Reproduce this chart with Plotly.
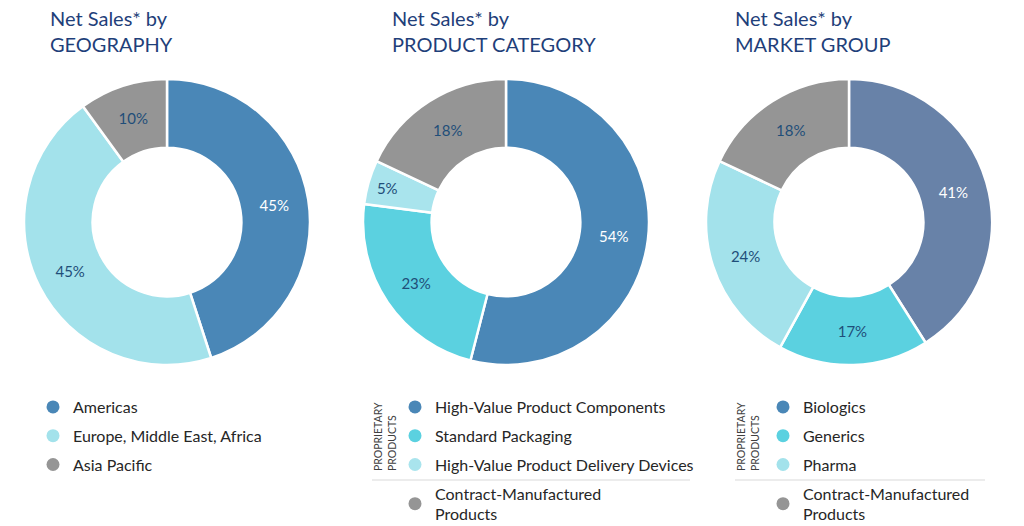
import plotly.graph_objects as go

W, H = 1024, 526

geo_labels = ["Americas", "Europe, Middle East, Africa", "Asia Pacific"]
geo_values = [45, 45, 10]
geo_colors = ["#4a87b7", "#a3e2eb", "#959595"]
geo_text_colors = ["#ffffff", "#1f4e79", "#1f4e79"]

prod_labels = ["High-Value Product Components", "Standard Packaging",
               "High-Value Product Delivery Devices", "Contract-Manufactured<br>Products"]
prod_values = [54, 23, 5, 18]
prod_colors = ["#4a87b7", "#5bd1e0", "#a9e4ed", "#959595"]
prod_text_colors = ["#ffffff", "#1f4e79", "#1f4e79", "#1f4e79"]

mkt_labels = ["Biologics", "Generics", "Pharma", "Contract-Manufactured<br>Products"]
mkt_values = [41, 17, 24, 18]
mkt_colors = ["#6882a8", "#5bd1e0", "#a3e2eb", "#959595"]
mkt_legend_colors = ["#4a87b7", "#5bd1e0", "#a3e2eb", "#959595"]
mkt_text_colors = ["#ffffff", "#1f4e79", "#1f4e79", "#1f4e79"]

titles = ["Net Sales* by<br>GEOGRAPHY", "Net Sales* by<br>PRODUCT CATEGORY", "Net Sales* by<br>MARKET GROUP"]

FONT = "Lato"
TITLE_COLOR = "#1f3f7a"

centers_x = [167, 506, 849]
cy = 222
R = 143

def dom(cx):
    return dict(x=[(cx - R) / W, (cx + R) / W],
                y=[(H - cy - R) / H, (H - cy + R) / H])

fig = go.Figure()
pies = [(geo_labels, geo_values, geo_colors, geo_text_colors),
        (prod_labels, prod_values, prod_colors, prod_text_colors),
        (mkt_labels, mkt_values, mkt_colors, mkt_text_colors)]
for i, (lab, val, col, tcol) in enumerate(pies):
    fig.add_trace(go.Pie(
        labels=lab, values=val, hole=0.52, sort=False, direction="clockwise",
        rotation=0, marker=dict(colors=col, line=dict(color="white", width=2.5)),
        texttemplate="%{value}%", textposition="inside",
        insidetextorientation="horizontal",
        textfont=dict(family=FONT, size=15, color=tcol),
        showlegend=False, domain=dom(centers_x[i]), hoverinfo="label+value",
    ))

legend_sets = [(geo_labels, geo_colors, "legend"),
               (prod_labels, prod_colors, "legend2"),
               (mkt_labels, mkt_legend_colors, "legend3")]
for k, (lab, col, lg) in enumerate(legend_sets):
    for j, (l, c) in enumerate(zip(lab, col)):
        fig.add_trace(go.Scatter(
            x=[None], y=[None], mode="markers", name=l,
            marker=dict(color=c, size=13, symbol="circle"),
            legend=lg, legendgroup=f"{lg}_{j}", showlegend=True,
        ))

leg_common = dict(font=dict(family=FONT, size=16, color="#262626"),
                  bgcolor="rgba(0,0,0,0)", tracegroupgap=5, itemwidth=30,
                  xanchor="left", yanchor="top")
fig.update_layout(
    width=W, height=H, margin=dict(l=0, r=0, t=0, b=0, autoexpand=False),
    paper_bgcolor="white", plot_bgcolor="white",
    xaxis=dict(visible=False, domain=[0, 0.01]), yaxis=dict(visible=False, domain=[0, 0.01]),
    legend=dict(x=33 / W, y=1 - 390 / H, **leg_common),
    legend2=dict(x=395 / W, y=1 - 390 / H, **leg_common),
    legend3=dict(x=763 / W, y=1 - 390 / H, **leg_common),
)

title_x = [48, 390, 733]
for tx, t in zip(title_x, titles):
    fig.add_annotation(text=t, x=tx / W, y=1 - 4 / H, xref="paper", yref="paper",
                       xanchor="left", yanchor="top", showarrow=False, align="left",
                       font=dict(family=FONT, size=20, color=TITLE_COLOR))

for px in [385, 748]:
    fig.add_annotation(text="PROPRIETARY<br>PRODUCTS", x=px / W, y=1 - 437 / H,
                       xref="paper", yref="paper", textangle=-90, showarrow=False,
                       xanchor="center", yanchor="middle", align="left",
                       font=dict(family=FONT, size=10.5, color="#404040"))

for x0, x1 in [(372, 690), (735, 985)]:
    fig.add_shape(type="line", x0=x0 / W, x1=x1 / W, y0=1 - 480 / H, y1=1 - 480 / H,
                  xref="paper", yref="paper", line=dict(color="#d9d9d9", width=1))

fig.write_html("out.html")
